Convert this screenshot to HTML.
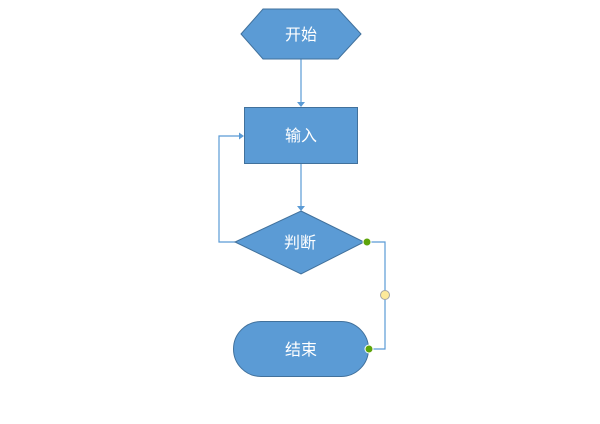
<!DOCTYPE html>
<html><head><meta charset="utf-8"><style>html,body{margin:0;padding:0;background:#fff;}svg{display:block}</style></head>
<body>
<svg width="600" height="424" viewBox="0 0 600 424" xmlns="http://www.w3.org/2000/svg" font-family="Liberation Sans, Noto Sans CJK SC, sans-serif">
<g stroke="#5b9bd5" stroke-width="1.2" fill="none">
<line x1="301" y1="59" x2="301" y2="103"/>
<line x1="301" y1="164" x2="301" y2="207"/>
<polyline points="235,242 219,242 219,136 240,136"/>
<polyline points="369,242 385,242 385,349 371,349"/>
</g>
<g fill="#5b9bd5">
<polygon points="297,102 305,102 301,107"/>
<polygon points="297,206 305,206 301,211"/>
<polygon points="239,132.5 239,139.5 244,136"/>
</g>
<g fill="#5b9bd5" stroke="#41719c" stroke-width="1">
<polygon points="241,34 263,9 338,9 361,34 338,59 263,59"/>
<rect x="244.5" y="107.5" width="113" height="56"/>
<polygon points="301,211 364,242 301,274 235,242"/>
<rect x="233.5" y="321.5" width="135" height="55" rx="27.5"/>
</g>
<g fill="#fff" font-size="16" text-anchor="middle">
<text x="301" y="40">开始</text>
<text x="301" y="141">输入</text>
<text x="300" y="248">判断</text>
<text x="301" y="355">结束</text>
</g>
<circle cx="367" cy="242" r="4" fill="#5ea40a" stroke="#fff" stroke-width="1"/>
<circle cx="369" cy="349" r="4" fill="#5ea40a" stroke="#fff" stroke-width="1"/>
<circle cx="385" cy="295" r="4.5" fill="#fde99a" stroke="#a5a5a5" stroke-width="1"/>
</svg>
</body></html>
